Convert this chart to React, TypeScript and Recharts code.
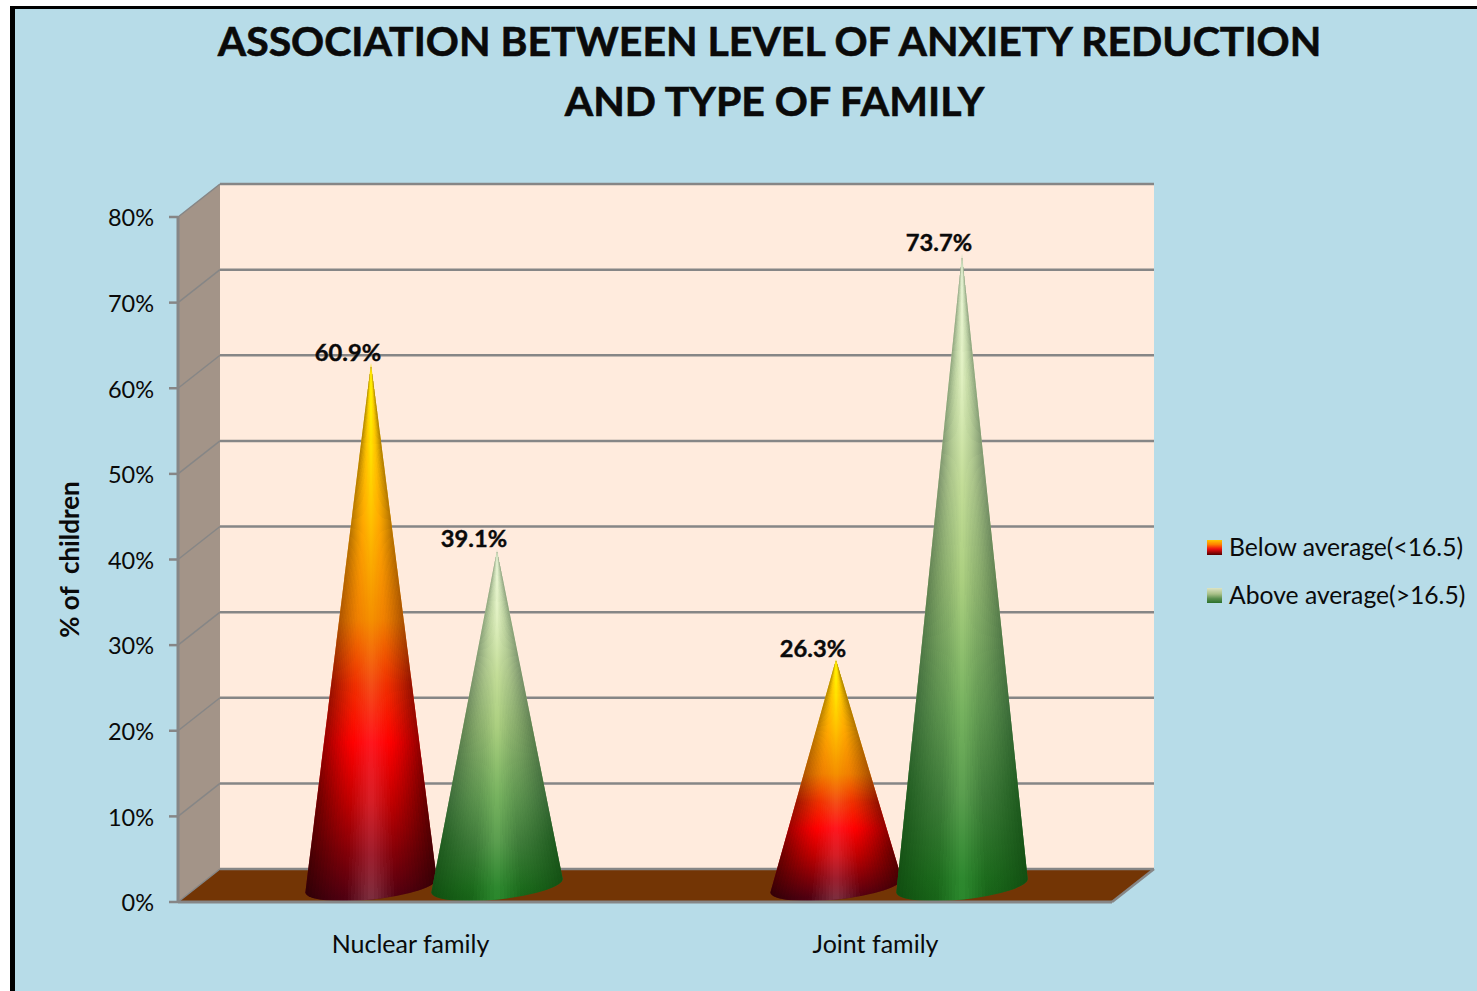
import React from 'react';
import {
  BarChart,
  Bar,
  XAxis,
  YAxis,
  CartesianGrid,
  Legend,
  LabelList,
  ReferenceArea,
} from 'recharts';

const categories = ['Nuclear family', 'Joint family'];
const belowAverage = [60.9, 26.3];
const aboveAverage = [39.1, 73.7];
const percentTicks = [0, 10, 20, 30, 40, 50, 60, 70, 80];

const rows = categories.map((family, i) => ({
  family,
  below: belowAverage[i],
  above: aboveAverage[i],
}));

const FONT = 'Lato, Carlito, Calibri, sans-serif';
const INK = '#0a0a0a';
const EDGE = '#868686';

// Depth of the fake 3D box: how far the back wall sits from the front plane.
const DEPTH_X = 42;
const DEPTH_Y = 33;
// Space left free after the last category on the horizontal axis.
const AXIS_END_PAD = 4;

type Stop = [number, string];
type Palette = { centre: Stop[]; shoulder: Stop[]; edge: Stop[] };

// Each cone blends three vertical ramps: highlight, body colour and rim shadow.
const PALETTES: Record<string, Palette> = {
  below: {
    centre: [
      [0, '#FFFF00'],
      [0.1, '#FFF000'],
      [0.3, '#FFC000'],
      [0.48, '#F59000'],
      [0.6, '#F45018'],
      [0.71, '#FF1820'],
      [0.82, '#D82028'],
      [0.92, '#A02030'],
      [1, '#803040'],
    ],
    shoulder: [
      [0, '#FFE800'],
      [0.1, '#FFD000'],
      [0.3, '#FFA800'],
      [0.48, '#F08000'],
      [0.6, '#F03000'],
      [0.71, '#FF0000'],
      [0.82, '#C00000'],
      [0.92, '#800008'],
      [1, '#500010'],
    ],
    edge: [
      [0, '#A08000'],
      [0.3, '#B07000'],
      [0.48, '#A85000'],
      [0.6, '#901000'],
      [0.71, '#900000'],
      [0.82, '#600000'],
      [1, '#2A0005'],
    ],
  },
  above: {
    centre: [
      [0, '#F0F8E0'],
      [0.1, '#EAF6D0'],
      [0.2, '#E0F0C0'],
      [0.36, '#C4DE98'],
      [0.51, '#ACD080'],
      [0.71, '#78B460'],
      [0.84, '#5CA050'],
      [0.97, '#2F8A30'],
      [1, '#2C8A2E'],
    ],
    shoulder: [
      [0, '#D0E0C0'],
      [0.2, '#C8DCA8'],
      [0.36, '#AFC98C'],
      [0.51, '#90B470'],
      [0.71, '#5F9650'],
      [0.84, '#3F7C3A'],
      [0.97, '#1C6A1C'],
      [1, '#186418'],
    ],
    edge: [
      [0, '#90A080'],
      [0.2, '#88A078'],
      [0.36, '#78906A'],
      [0.51, '#5E8050'],
      [0.71, '#3A6A38'],
      [0.84, '#1E5A1E'],
      [1, '#0E4A0E'],
    ],
  },
};

const WEDGES = 44;
const BASE_TILT = 6;

function Cone(props: any) {
  const { x, y, width, height, index, series } = props;
  const palette = PALETTES[series];
  // Cones stand halfway into the box.
  const cx = x + width / 2 + DEPTH_X / 2 + 2;
  const tip = y - DEPTH_Y / 2 - 1;
  const base = y + height - DEPTH_Y / 2;
  const rx = 66;
  const ry = 14;
  const rad = (BASE_TILT * Math.PI) / 180;
  const lx = cx - rx * Math.cos(rad);
  const ly = base + rx * Math.sin(rad);
  const rxPt = cx + rx * Math.cos(rad);
  const ryPt = base - rx * Math.sin(rad);
  const outline = `M${cx},${tip} L${lx},${ly} A${rx},${ry} ${-BASE_TILT} 0 0 ${rxPt},${ryPt} Z`;
  const id = `${series}-${index}`;
  const reach = (height + 40) / height;
  const spread = rx * 1.08;

  const wedges = [];
  for (let i = 0; i < WEDGES; i += 1) {
    const a = (i / WEDGES) * 2 - 1;
    const b = ((i + 1) / WEDGES) * 2 - 1;
    const t = Math.abs((a + b) / 2);
    const points = `${cx},${tip} ${cx + a * spread * reach},${tip + height * reach} ${cx + b * spread * reach},${tip + height * reach}`;
    const highlight = Math.max(0, 1 - t / 0.35);
    const rim = Math.min(1, Math.pow(Math.max(0, t - 0.35) / 0.6, 1.2));
    if (highlight > 0) {
      wedges.push(
        <polygon
          key={`c${i}`}
          points={points}
          fill={`url(#centre-${id})`}
          opacity={highlight}
          shapeRendering="crispEdges"
        />,
      );
    }
    if (rim > 0) {
      wedges.push(
        <polygon
          key={`e${i}`}
          points={points}
          fill={`url(#edge-${id})`}
          opacity={rim}
          shapeRendering="crispEdges"
        />,
      );
    }
  }

  const gradient = (gid: string, stops: Stop[]) => (
    <linearGradient id={gid} gradientUnits="userSpaceOnUse" x1={0} x2={0} y1={tip} y2={base + 12}>
      {stops.map(([o, c]) => (
        <stop key={o} offset={o} stopColor={c} />
      ))}
    </linearGradient>
  );

  return (
    <g>
      <defs>
        {gradient(`centre-${id}`, palette.centre)}
        {gradient(`shoulder-${id}`, palette.shoulder)}
        {gradient(`edge-${id}`, palette.edge)}
        <clipPath id={`clip-${id}`}>
          <path d={outline} />
        </clipPath>
      </defs>
      <path d={outline} fill={`url(#shoulder-${id})`} />
      <g clipPath={`url(#clip-${id})`}>{wedges}</g>
    </g>
  );
}

// Side wall, back wall and floor of the box, drawn from the plot rectangle.
function BoxWalls(props: any) {
  const { x, y, height } = props;
  const width = props.width + AXIS_END_PAD;
  const r = x + width;
  const b = y + height;
  return (
    <g>
      <polygon
        points={`${x},${y} ${x + DEPTH_X},${y - DEPTH_Y} ${x + DEPTH_X},${b - DEPTH_Y} ${x},${b}`}
        fill="#A39488"
      />
      <rect
        x={x + DEPTH_X}
        y={y - DEPTH_Y}
        width={width}
        height={height}
        fill="#FFEBDD"
      />
      <polygon
        points={`${x},${b} ${r},${b} ${r + DEPTH_X},${b - DEPTH_Y} ${x + DEPTH_X},${b - DEPTH_Y}`}
        fill="#733505"
      />
      <line x1={r} y1={b} x2={r + DEPTH_X} y2={b - DEPTH_Y} stroke={EDGE} strokeWidth={2.5} />
    </g>
  );
}

function GridLine(props: any) {
  const { x1, x2, y1 } = props;
  return (
    <g>
      <line x1={x1} y1={y1} x2={x1 + DEPTH_X} y2={y1 - DEPTH_Y} stroke={EDGE} strokeWidth={1.5} />
      <line x1={x1 + DEPTH_X} y1={y1 - DEPTH_Y} x2={x2 + DEPTH_X} y2={y1 - DEPTH_Y} stroke={EDGE} strokeWidth={2.5} />
    </g>
  );
}

const SWATCHES: Record<string, string> = {
  below: 'linear-gradient(#FFC800, #FF8000 30%, #F01010 60%, #500000)',
  above: 'linear-gradient(#DDE4C4, #A8C088 40%, #5C9050 70%, #2A702A)',
};

function LegendBlock({ payload }: any) {
  return (
    <div>
      {(payload || []).map((entry: any) => (
        <div
          key={entry.dataKey}
          style={{ position: 'relative', height: 48, whiteSpace: 'nowrap' }}
        >
          <span
            style={{
              position: 'absolute',
              left: 0,
              top: 8,
              width: 15,
              height: 15,
              background: SWATCHES[entry.dataKey],
            }}
          />
          <span
            style={{
              position: 'absolute',
              left: 22,
              top: 0,
              font: `24.7px/30px ${FONT}`,
              color: INK,
            }}
          >
            {entry.value}
          </span>
        </div>
      ))}
    </div>
  );
}

const titleStyle: React.CSSProperties = {
  position: 'absolute',
  width: 1477,
  textAlign: 'center',
  font: `700 41px/60px ${FONT}`,
  color: INK,
  whiteSpace: 'nowrap',
  WebkitTextStroke: `0.6px ${INK}`,
};

const valueLabel = (v: any) => `${v}%`;

export default function App() {
  return (
    <div
      style={{
        position: 'fixed',
        left: 0,
        top: 0,
        width: 1477,
        height: 991,
        background: '#fff',
        overflow: 'hidden',
      }}
    >
      <div
        style={{
          position: 'absolute',
          left: 10,
          top: 6,
          right: 0,
          bottom: 0,
          background: '#B7DCE8',
          borderLeft: '5px solid #000',
          borderTop: '3px solid #000',
        }}
      />
      <div style={{ ...titleStyle, top: 11, left: 31 }}>
        ASSOCIATION BETWEEN LEVEL OF ANXIETY REDUCTION
      </div>
      <div style={{ ...titleStyle, top: 71, left: 36 }}>AND TYPE OF FAMILY</div>
      <div style={{ position: 'absolute', left: 0, top: 0 }}>
        <BarChart
          width={1477}
          height={991}
          data={rows}
          margin={{ top: 217, right: 95, bottom: 0, left: 0 }}
          barSize={126}
          barGap={0}
          style={{ fontFamily: FONT }}
        >
          <ReferenceArea
            y1={0}
            y2={80}
            ifOverflow="visible"
            shape={<BoxWalls />}
            zIndex={-200}
          />
          <CartesianGrid vertical={false} horizontal={(p: any) => <GridLine {...p} />} />
          <XAxis
            dataKey="family"
            height={89}
            padding={{ left: 0, right: AXIS_END_PAD }}
            tickLine={false}
            axisLine={{ stroke: EDGE, strokeWidth: 3 }}
            tickMargin={27}
            tick={{ fill: INK, fontSize: 25 }}
          />
          <YAxis
            width={178}
            domain={[0, 80]}
            ticks={percentTicks}
            interval={0}
            tickFormatter={valueLabel}
            tickSize={9}
            tickMargin={15}
            tickLine={{ stroke: EDGE, strokeWidth: 2.5 }}
            axisLine={{ stroke: EDGE, strokeWidth: 3 }}
            tick={{ fill: INK, fontSize: 23.5, dy: 1 }}
            label={{
              value: '% of\u00A0 children',
              angle: -90,
              position: 'insideLeft',
              offset: 70,
              style: { fill: INK, fontSize: 26, fontWeight: 700, textAnchor: 'middle' },
            }}
          />
          <Bar
            dataKey="below"
            name="Below average(<16.5)"
            fill="#FF8000"
            isAnimationActive={false}
            shape={(p: any) => <Cone {...p} series="below" />}
          >
            <LabelList
              dataKey="below"
              position="top"
              offset={20}
              formatter={valueLabel}
              fill={INK}
              fontSize={23.7}
              fontWeight={700}
              stroke={INK}
              strokeWidth={0.4}
            />
          </Bar>
          <Bar
            dataKey="above"
            name="Above average(>16.5)"
            fill="#7FA860"
            isAnimationActive={false}
            shape={(p: any) => <Cone {...p} series="above" />}
          >
            <LabelList
              dataKey="above"
              position="top"
              offset={20}
              formatter={valueLabel}
              fill={INK}
              fontSize={23.7}
              fontWeight={700}
              stroke={INK}
              strokeWidth={0.4}
            />
          </Bar>
          <Legend
            layout="vertical"
            align="right"
            verticalAlign="top"
            itemSorter={null as any}
            content={<LegendBlock />}
            wrapperStyle={{ left: 1207, top: 532, width: 270, right: 'auto' }}
          />
        </BarChart>
      </div>
    </div>
  );
}
